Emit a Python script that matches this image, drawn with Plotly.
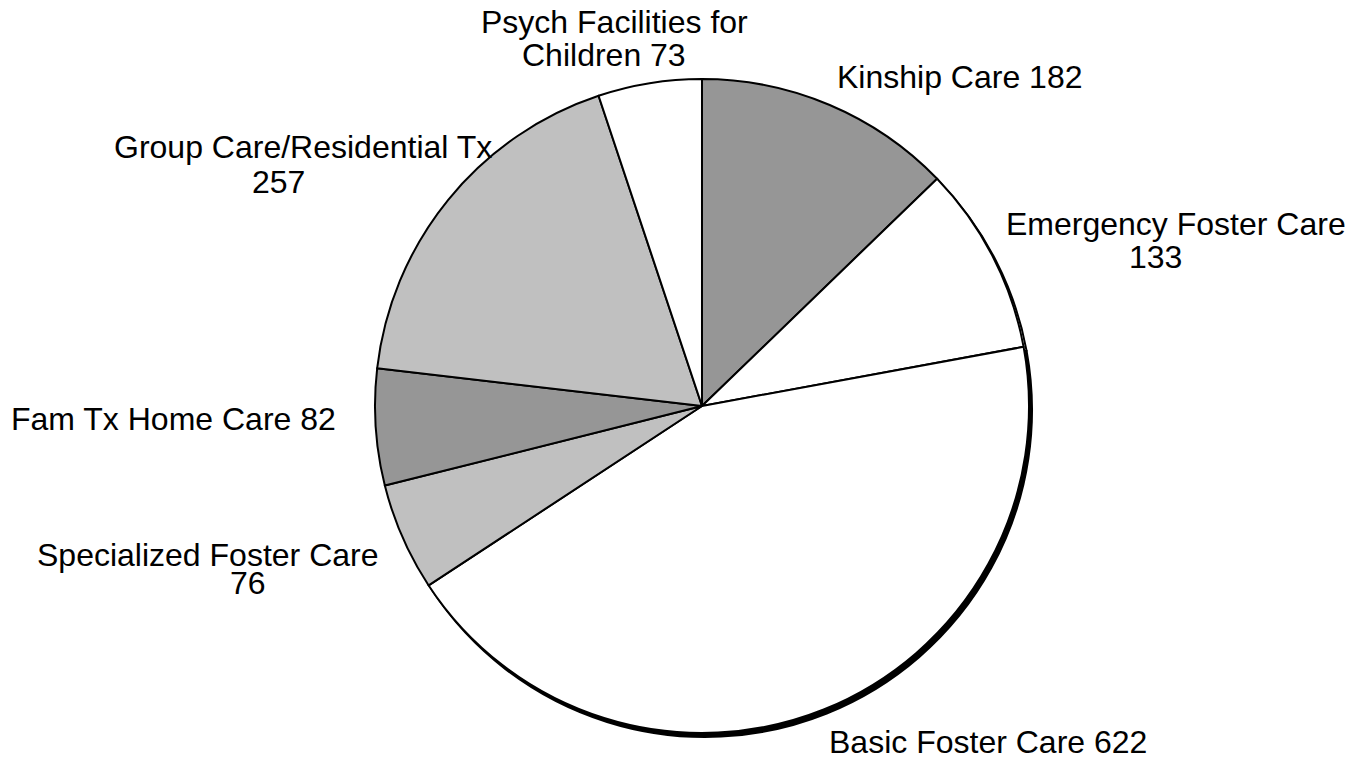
import plotly.graph_objects as go

# ---- data ----
categories = ["Kinship Care", "Emergency Foster Care", "Basic Foster Care",
              "Specialized Foster Care", "Fam Tx Home Care",
              "Group Care/Residential Tx", "Psych Facilities for Children"]
values = [182, 133, 622, 76, 82, 257, 73]
slice_colors = ["#969696", "#ffffff", "#ffffff", "#c0c0c0", "#969696", "#c0c0c0", "#ffffff"]
shadow_fill = ["#a6a6a6", "#ffffff", "#000000", "rgba(0,0,0,0)", "rgba(0,0,0,0)",
               "rgba(0,0,0,0)", "rgba(0,0,0,0)"]
shadow_line = ["#a6a6a6", "#000000", "#000000", "rgba(0,0,0,0)", "rgba(0,0,0,0)",
               "rgba(0,0,0,0)", "rgba(0,0,0,0)"]

# label lines (text built from categories & values)
label_lines = [
    [f"{categories[0]} {values[0]}"],
    [categories[1], str(values[1])],
    [f"{categories[2]} {values[2]}"],
    [categories[3], str(values[3])],
    [f"{categories[4]} {values[4]}"],
    [categories[5], str(values[5])],
    ["Psych Facilities for", f"Children {values[6]}"],
]
# label line centres in window pixels (x, y from top)
label_pos = [
    [(959, 77)],
    [(1176, 224), (1155, 257)],
    [(988, 742)],
    [(207, 555), (248, 583)],
    [(173, 419)],
    [(303, 147), (278, 182)],
    [(614, 22), (604, 55)],
]

OFF = 8  # page body margin
W, H = 1361 - 2 * OFF, 765 - 2 * OFF
cx, cy, r = 702 - OFF, 406 - OFF, 327


def dom(dx=0, dy=0):
    return dict(x=[(cx - r + dx) / W, (cx + r + dx) / W],
                y=[(H - cy - r - dy) / H, (H - cy + r - dy) / H])


fig = go.Figure()
# shadow pie (slight offset, gives the thick edge on the lower right)
fig.add_trace(go.Pie(
    labels=categories, values=values, sort=False, direction="clockwise", rotation=0,
    marker=dict(colors=shadow_fill, line=dict(color=shadow_line, width=2)),
    textinfo="none", hoverinfo="skip", showlegend=False, domain=dom(3, 4)))
# main pie
fig.add_trace(go.Pie(
    labels=categories, values=values, sort=False, direction="clockwise", rotation=0,
    marker=dict(colors=slice_colors, line=dict(color="#000000", width=2)),
    textinfo="none", showlegend=False, domain=dom()))

for lines, poss in zip(label_lines, label_pos):
    for txt, (px, py) in zip(lines, poss):
        fig.add_annotation(text=txt, x=(px - OFF) / W, y=1 - (py - OFF) / H,
                           xref="paper", yref="paper", borderpad=0,
                           xanchor="center", yanchor="middle", showarrow=False,
                           font=dict(family="Liberation Sans, Arial", size=32, color="#000000"))

fig.update_layout(width=W, height=H, margin=dict(l=0, r=0, t=0, b=0),
                  paper_bgcolor="#ffffff", plot_bgcolor="#ffffff", showlegend=False)
fig.write_html("out.html")
